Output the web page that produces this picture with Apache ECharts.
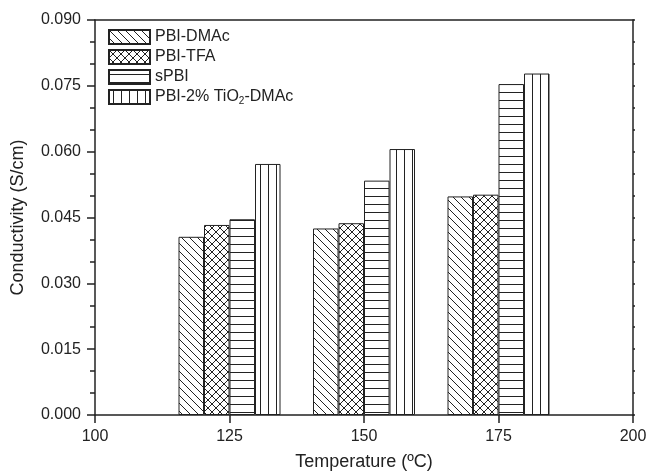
<!DOCTYPE html>
<html>
<head>
<meta charset="utf-8">
<script src="https://cdn.jsdelivr.net/npm/echarts@6/dist/echarts.min.js"></script>
<style>html,body{margin:0;padding:0;background:#fff}#c{width:649px;height:471px}</style>
</head>
<body>
<div id="c"></div>
<script>
// ---- data ----
const temperatures = [125, 150, 175];
const seriesNames = ['PBI-DMAc', 'PBI-TFA', 'sPBI', 'PBI-2% TiO2-DMAc'];
const pbiDMAc = [0.0406, 0.0425, 0.0498];
const pbiTFA = [0.0433, 0.0437, 0.0502];
const sPBI = [0.0446, 0.0534, 0.0754];
const pbiTiO2 = [0.0572, 0.0606, 0.0778];
const xTicks = [100, 125, 150, 175, 200];
const yTicks = [0.000, 0.015, 0.030, 0.045, 0.060, 0.075, 0.090];

const FONT = '"Liberation Sans", Arial, sans-serif';
const INK = '#222';

function makePattern(type) {
  const s = 8;
  const c = document.createElement('canvas');
  c.width = s; c.height = s;
  const g = c.getContext('2d');
  g.fillStyle = '#fff';
  g.fillRect(0, 0, s, s);
  g.strokeStyle = INK;
  g.lineWidth = 1;
  g.beginPath();
  if (type === 'back' || type === 'cross') {
    for (const k of [-s, 0, s]) { g.moveTo(k, 0); g.lineTo(k + s, s); }
  }
  if (type === 'cross') {
    for (const k of [-s, 0, s]) { g.moveTo(k + s, 0); g.lineTo(k, s); }
  }
  if (type === 'horiz') { g.moveTo(0, 4.5); g.lineTo(s, 4.5); }
  if (type === 'vert') { g.moveTo(4.5, 0); g.lineTo(4.5, s); }
  g.stroke();
  return { image: c, repeat: 'repeat' };
}

const patterns = [makePattern('back'), makePattern('cross'), makePattern('horiz'), makePattern('vert')];
const allValues = [pbiDMAc, pbiTFA, sPBI, pbiTiO2];

const series = seriesNames.map((name, i) => ({
  name: name,
  type: 'bar',
  barWidth: 25.5,
  barGap: '0%',
  data: temperatures.map((t, j) => [t, allValues[i][j]]),
  itemStyle: { color: patterns[i], borderColor: INK, borderWidth: 1 },
  emphasis: { disabled: true }
}));

const chart = echarts.init(document.getElementById('c'), null, { renderer: 'canvas' });
chart.setOption({
  animation: false,
  backgroundColor: '#fff',
  textStyle: { fontFamily: FONT },
  grid: { left: 95, right: 16, top: 20, bottom: 56, containLabel: false, outerBoundsMode: 'none' },
  legend: {
    left: 103, top: 23,
    orient: 'vertical',
    itemWidth: 41, itemHeight: 14, itemGap: 2,
    icon: 'rect',
    data: seriesNames,
    formatter: function (n) {
      if (n.indexOf('TiO2') >= 0) {
        const parts = n.split('TiO2');
        return '{a|' + parts[0] + 'TiO}{sub|2}{a|' + parts[1] + '}';
      }
      return '{a|' + n + '}';
    },
    textStyle: {
      color: INK, fontFamily: FONT, fontSize: 16, lineHeight: 18,
      rich: {
        a: { fontSize: 16, lineHeight: 18, fontFamily: FONT, color: INK },
        sub: { fontSize: 10, lineHeight: 12, fontFamily: FONT, color: INK, verticalAlign: 'bottom', padding: [6, 0, 0, 0] }
      }
    }
  },
  xAxis: [{
    type: 'value', min: 100, max: 200, interval: 25,
    name: 'Temperature (ºC)', nameLocation: 'middle', nameGap: 38,
    nameTextStyle: { fontSize: 18, color: INK, fontFamily: FONT },
    axisLine: { show: true, onZero: false, lineStyle: { color: INK, width: 1.5 } },
    axisTick: { show: true, length: 8, lineStyle: { color: INK, width: 1.5 } },
    axisLabel: { fontSize: 16, color: INK, margin: 14, formatter: v => xTicks.indexOf(v) >= 0 ? String(v) : '' },
    splitLine: { show: false }
  }, {
    type: 'value', min: 100, max: 200, position: 'top',
    axisLine: { show: true, onZero: false, lineStyle: { color: INK, width: 1.5 } },
    axisTick: { show: false }, axisLabel: { show: false }, splitLine: { show: false }
  }],
  yAxis: [{
    type: 'value', min: 0, max: 0.09, interval: 0.015,
    name: 'Conductivity (S/cm)', nameLocation: 'middle', nameGap: 68,
    nameTextStyle: { fontSize: 18, color: INK, fontFamily: FONT },
    axisLine: { show: true, onZero: false, lineStyle: { color: INK, width: 1.5 } },
    axisTick: { show: true, length: 8, lineStyle: { color: INK, width: 1.5 } },
    minorTick: { show: true, splitNumber: 3, length: 5, lineStyle: { color: INK, width: 1.5 } },
    axisLabel: { fontSize: 16, color: INK, margin: 14, formatter: v => v.toFixed(3) },
    splitLine: { show: false }
  }, {
    type: 'value', min: 0, max: 0.09, interval: 0.005, position: 'right',
    axisLine: { show: true, onZero: false, lineStyle: { color: INK, width: 1.5 } },
    axisTick: { show: true, length: 2, lineStyle: { color: INK, width: 1.5 } },
    axisLabel: { show: false }, splitLine: { show: false }
  }],
  series: series
});
</script>
</body>
</html>
